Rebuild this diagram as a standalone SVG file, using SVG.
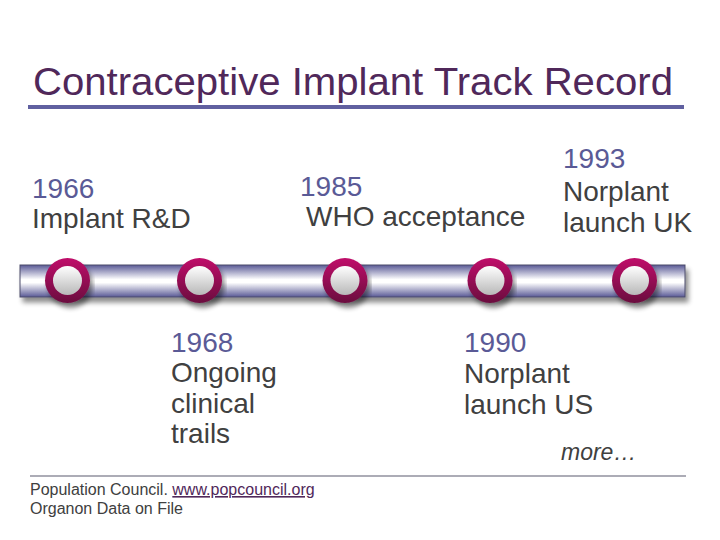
<svg xmlns="http://www.w3.org/2000/svg" width="720" height="540" viewBox="0 0 720 540">
<defs>
<linearGradient id="bar" x1="0" y1="0" x2="0" y2="1">
<stop offset="0" stop-color="#5a5a96"/>
<stop offset="0.45" stop-color="#ffffff"/>
<stop offset="0.55" stop-color="#ffffff"/>
<stop offset="1" stop-color="#5a5a96"/>
</linearGradient>
<linearGradient id="ring" x1="0" y1="0" x2="0" y2="1">
<stop offset="0" stop-color="#c0106a"/>
<stop offset="1" stop-color="#6a0a3e"/>
</linearGradient>
<linearGradient id="hole" x1="0" y1="0" x2="0" y2="1">
<stop offset="0" stop-color="#ffffff"/>
<stop offset="1" stop-color="#b8b8b8"/>
</linearGradient>
<filter id="sh" x="-10%" y="-50%" width="120%" height="200%">
<feGaussianBlur in="SourceAlpha" stdDeviation="2.5"/>
<feOffset dx="3" dy="5"/>
<feComponentTransfer><feFuncA type="linear" slope="0.45"/></feComponentTransfer>
<feMerge><feMergeNode/><feMergeNode in="SourceGraphic"/></feMerge>
</filter>
<g id="node">
<circle r="22.5" fill="url(#ring)"/>
<circle r="14.5" fill="url(#hole)"/>
</g>
</defs>
<style>
.t{font-family:"Liberation Sans",Arial,sans-serif;font-size:28px;fill:#404040}
.y{fill:#5a5a96}
.f{font-family:"Liberation Sans",Arial,sans-serif;font-size:16px;fill:#404040}
</style>
<rect width="720" height="540" fill="#ffffff"/>
<text x="33" y="95" font-family="Liberation Sans,Arial,sans-serif" font-size="38" fill="#50285a" textLength="640" lengthAdjust="spacingAndGlyphs">Contraceptive Implant Track Record</text>
<rect x="28" y="105" width="656" height="4" fill="#6060a0"/>
<g id="timeline" filter="url(#sh)">
<rect x="20" y="265" width="665" height="32" fill="url(#bar)" stroke="#4a4a6a" stroke-width="1"/>
</g>
<g id="connectors"></g>
<g id="n1966" filter="url(#sh)"><use href="#node" x="67.5" y="280.5"/></g>
<g id="n1968" filter="url(#sh)"><use href="#node" x="199.5" y="280.5"/></g>
<g id="n1985" filter="url(#sh)"><use href="#node" x="345" y="280.5"/></g>
<g id="n1990" filter="url(#sh)"><use href="#node" x="490" y="280.5"/></g>
<g id="n1993" filter="url(#sh)"><use href="#node" x="634.5" y="280.5"/></g>
<g id="l1966"><text class="t y" x="32" y="198">1966</text><text class="t" x="32" y="228">Implant R&amp;D</text></g>
<g id="l1985"><text class="t y" x="300" y="196">1985</text><text class="t" x="306" y="226">WHO acceptance</text></g>
<g id="l1993"><text class="t y" x="563" y="168">1993</text><text class="t" x="563" y="201">Norplant</text><text class="t" x="563" y="232">launch UK</text></g>
<g id="l1968"><text class="t y" x="171" y="352">1968</text><text class="t" x="171" y="382">Ongoing</text><text class="t" x="171" y="413">clinical</text><text class="t" x="171" y="443">trails</text></g>
<g id="l1990"><text class="t y" x="464" y="352">1990</text><text class="t" x="464" y="383">Norplant</text><text class="t" x="464" y="414">launch US</text></g>
<text x="561" y="460" font-family="Liberation Sans,Arial,sans-serif" font-size="23" font-style="italic" fill="#404040">more…</text>
<line x1="30" y1="476" x2="686" y2="476" stroke="#5a5a6e" stroke-width="1.2"/>
<text class="f" x="30" y="495">Population Council. <tspan fill="#50285a" text-decoration="underline">www.popcouncil.org</tspan></text>
<text class="f" x="30" y="514">Organon Data on File</text>
</svg>
